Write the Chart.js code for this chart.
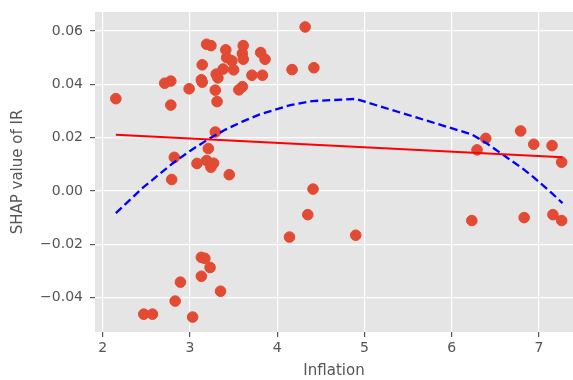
<!DOCTYPE html>
<html>
<head>
<meta charset="utf-8">
<script src="https://cdn.jsdelivr.net/npm/chart.js@4.4.1/dist/chart.umd.min.js"></script>
<style>
  html, body { margin: 0; padding: 0; background: #fff; }
  #wrap { width: 573px; height: 380px; }
</style>
</head>
<body>
<div id="wrap"><canvas id="shapChart" width="573" height="380"></canvas></div>
<script>
// values
const inflation = [
    2.15, 2.71, 2.78, 2.78, 2.99, 3.19, 3.24, 3.14, 3.13, 3.14,
    3.30, 3.32, 3.29, 3.31, 3.41, 3.42, 3.48, 3.38, 3.50, 3.61,
    3.60, 3.61, 3.56, 3.60, 3.71, 3.81, 3.86, 3.83, 4.17, 4.32,
    4.42, 3.29, 3.21, 2.82, 3.08, 3.19, 3.27, 3.24, 2.79, 3.45,
    4.41, 4.35, 4.14, 3.13, 3.17, 3.23, 3.13, 2.89, 3.35, 2.83,
    2.47, 2.57, 3.03, 6.39, 6.29, 6.79, 6.94, 7.15, 7.26, 4.90,
    6.23, 6.83, 7.16, 7.26
];
const shapIR = [
    0.0346, 0.0404, 0.0412, 0.0322, 0.0383, 0.0550, 0.0545, 0.0473, 0.0417, 0.0408,
    0.0438, 0.0424, 0.0378, 0.0335, 0.0529, 0.0500, 0.0488, 0.0457, 0.0454, 0.0545,
    0.0515, 0.0494, 0.0379, 0.0391, 0.0434, 0.0519, 0.0494, 0.0434, 0.0455, 0.0615,
    0.0462, 0.0221, 0.0159, 0.0126, 0.0103, 0.0114, 0.0104, 0.0089, 0.0043, 0.0061,
    0.0007, -0.0089, -0.0173, -0.0249, -0.0253, -0.0287, -0.0320, -0.0342, -0.0376, -0.0413,
    -0.0462, -0.0462, -0.0473, 0.0197, 0.0154, 0.0225, 0.0175, 0.0170, 0.0108, -0.0166,
    -0.0111, -0.0100, -0.0089, -0.0111
];

// straight fit (red)
const linearX = [2.15, 7.27];
const linearY = [0.0211, 0.0126];

// curved fit (blue dashed)
const curveX = [2.15, 2.47, 2.8, 3.0, 3.2, 3.4, 3.6, 3.8, 4.15, 4.4, 4.9, 6.23, 6.39, 6.8, 6.94, 7.15, 7.27];
const curveY = [-0.0083, 0.0015, 0.0103, 0.0150, 0.0192, 0.0229, 0.0260, 0.0287, 0.0322, 0.0337, 0.0345, 0.0212, 0.0181, 0.0087, 0.0051, -0.0009, -0.0046];

const xTicks = [2, 3, 4, 5, 6, 7];
const yTicks = [-0.04, -0.02, 0.00, 0.02, 0.04, 0.06];

const toPoints = (xs, ys) => xs.map((x, i) => ({ x: x, y: ys[i] }));

// grey panel like the ggplot style
const panelBg = {
    id: "panelBg",
    beforeDraw(chart) {
        const { ctx, chartArea } = chart;
        ctx.save();
        ctx.fillStyle = "#E5E5E5";
        ctx.fillRect(chartArea.left, chartArea.top, chartArea.right - chartArea.left, chartArea.bottom - chartArea.top);
        ctx.restore();
    },
};

const tickFont = { family: "DejaVu Sans", size: 14 };
const titleFont = { family: "DejaVu Sans", size: 15 };

const ctx = document.getElementById("shapChart").getContext("2d");
new Chart(ctx, {
    type: "scatter",
    data: {
        datasets: [
            {
                label: "Linear",
                type: "line",
                data: toPoints(linearX, linearY),
                borderColor: "#FF0000",
                borderWidth: 2,
                pointRadius: 0,
                fill: false,
                order: 1,
            },
            {
                label: "Quadratic",
                type: "line",
                data: toPoints(curveX, curveY),
                borderColor: "#0000FF",
                borderWidth: 2.3,
                borderDash: [8, 4],
                pointRadius: 0,
                fill: false,
                order: 2,
            },
            {
                label: "SHAP",
                data: toPoints(inflation, shapIR),
                backgroundColor: "#E24A33",
                borderColor: "#E24A33",
                pointRadius: 5.3,
                pointHoverRadius: 5.3,
                order: 3,
            },
        ],
    },
    options: {
        responsive: false,
        animation: false,
        layout: { autoPadding: false, padding: { top: 12, right: 0, left: 0, bottom: 0 } },
        plugins: {
            legend: { display: false },
            tooltip: { enabled: false },
        },
        scales: {
            x: {
                type: "linear",
                min: 1.911,
                max: 7.39,
                afterBuildTicks: (scale) => { scale.ticks = xTicks.map((v) => ({ value: v })); },
                afterFit: (scale) => {
                    scale.height = 48;
                    scale.paddingLeft = 0;
                    scale.paddingRight = 0;
                },
                border: { display: false },
                grid: { color: "#FFFFFF", lineWidth: 1.2, tickColor: "#555555", tickLength: 5 },
                ticks: { color: "#555555", font: tickFont, padding: 3, callback: (v) => String(v) },
                title: { display: true, text: "Inflation", color: "#555555", font: titleFont, padding: { top: 0, bottom: 0 } },
            },
            y: {
                min: -0.0529,
                max: 0.0671,
                afterBuildTicks: (scale) => { scale.ticks = yTicks.map((v) => ({ value: v })); },
                afterFit: (scale) => {
                    scale.width = 95;
                    scale.paddingTop = 0;
                    scale.paddingBottom = 0;
                },
                border: { display: false },
                grid: { color: "#FFFFFF", lineWidth: 1.2, tickColor: "#555555", tickLength: 5 },
                ticks: {
                    color: "#555555",
                    font: tickFont,
                    padding: 7,
                    callback: (v) => v.toFixed(2).replace("-", "\u2212"),
                },
                title: { display: true, text: "SHAP value of IR", color: "#555555", font: titleFont, padding: { top: 9, bottom: 0 } },
            },
        },
    },
    plugins: [panelBg],
});
</script>
</body>
</html>
